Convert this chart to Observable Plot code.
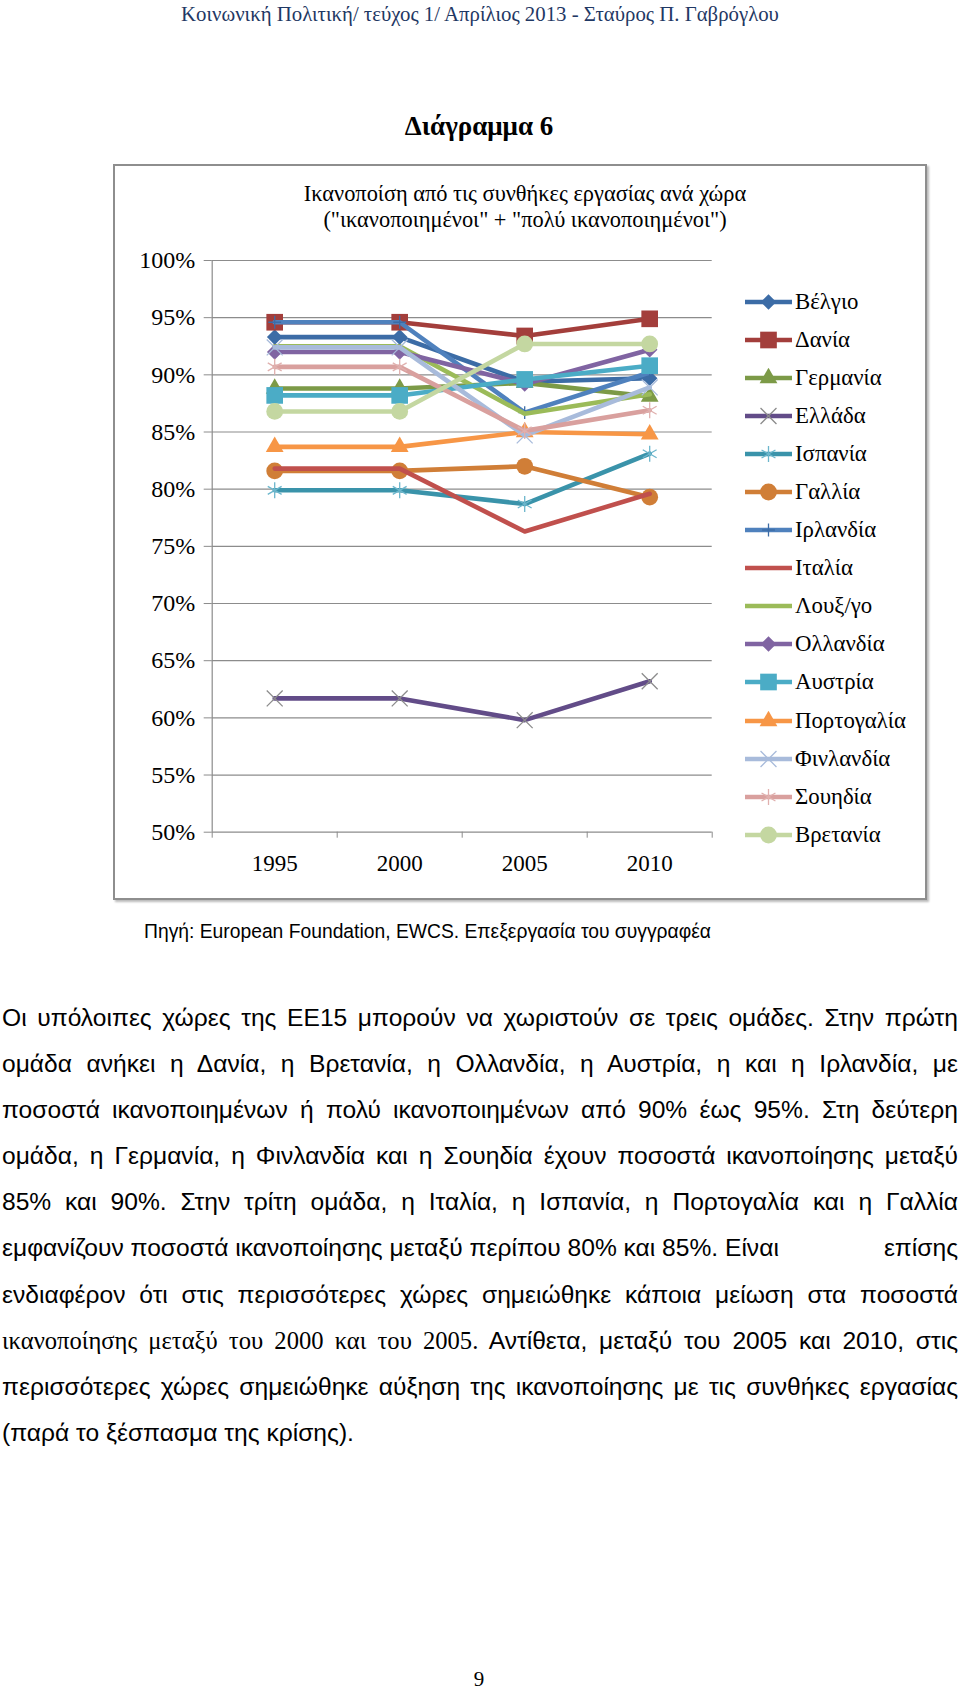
<!DOCTYPE html>
<html>
<head>
<meta charset="utf-8">
<script src="https://cdn.jsdelivr.net/npm/d3@7"></script>
<script src="https://cdn.jsdelivr.net/npm/@observablehq/plot@0.6"></script>
<style>
  html, body { margin: 0; padding: 0; background: #fff; }
  body { position: relative; width: 960px; height: 1699px; overflow: hidden; }
  .abs { position: absolute; }
  #header { left: 0; width: 960px; top: 1px; text-align: center; font-family: "Liberation Serif", serif; font-size: 20.8px; color: #1f3864; line-height: 26px; }
  #diag { left: 0; width: 958px; top: 109px; text-align: center; font-family: "Liberation Serif", serif; font-weight: bold; font-size: 27px; line-height: 34px; }
  #box { left: 113px; top: 164px; width: 810px; height: 732px; border: 2px solid #8e8e8e; box-shadow: 2px 2px 2px #bbb; }
  #ctitle { left: 113px; width: 814px; top: 181px; text-align: center; font-family: "Liberation Serif", serif; font-size: 22.4px; line-height: 26px; padding-left: 10px; box-sizing: border-box; }
  #chart { left: 113px; top: 230px; }
  #legend { left: 740px; top: 283px; font-family: "Liberation Serif", serif; font-size: 22.8px; }
  .lrow { height: 38.05px; display: flex; align-items: center; }
  .lrow svg { flex: none; }
  #source { left: 144px; top: 919px; font-family: "Liberation Sans", sans-serif; font-size: 19.3px; line-height: 26px; }
  #body { left: 2px; top: 995px; width: 956px; font-family: "Liberation Sans", sans-serif; font-size: 24.6px; line-height: 46.1px; }
  .ln { text-align: justify; text-align-last: justify; white-space: nowrap; height: 46.1px; }
  .ln.last { text-align-last: left; }
  .serif { font-family: "Liberation Serif", serif; }
  #pnum { left: 0; width: 958px; top: 1667px; text-align: center; font-family: "Liberation Serif", serif; font-size: 21px; }
</style>
</head>
<body>
<div id="header" class="abs">Κοινωνική Πολιτική/ τεύχος 1/ Απρίλιος 2013 - Σταύρος Π. Γαβρόγλου</div>
<div id="diag" class="abs">Διάγραμμα 6</div>
<div id="box" class="abs"></div>
<div id="ctitle" class="abs">Ικανοποίση από τις συνθήκες εργασίας ανά χώρα<br>("ικανοποιημένοι" + "πολύ ικανοποιημένοι")</div>
<div id="chart" class="abs"></div>
<div id="legend" class="abs"></div>
<div id="source" class="abs">Πηγή: European Foundation, EWCS. Επεξεργασία του συγγραφέα</div>
<div id="body" class="abs"></div>
<div id="pnum" class="abs">9</div>
<script>
// ---- data ----
const years = [1995, 2000, 2005, 2010];
const countries = ["Βέλγιο","Δανία","Γερμανία","Ελλάδα","Ισπανία","Γαλλία","Ιρλανδία","Ιταλία","Λουξ/γο","Ολλανδία","Αυστρία","Πορτογαλία","Φινλανδία","Σουηδία","Βρετανία"];
const belgio      = [93.3, 93.3, 89.4, 89.7];
const dania       = [94.6, 94.6, 93.4, 94.9];
const germania    = [88.8, 88.8, 89.3, 88.1];
const ellada      = [61.7, 61.7, 59.8, 63.2];
const ispania     = [79.9, 79.9, 78.7, 83.1];
const gallia      = [81.6, 81.6, 82.0, 79.3];
const irlandia    = [94.6, 94.6, 86.7, 90.2];
const italia      = [81.8, 81.8, 76.3, 79.6];
const luxemburgo  = [92.5, 92.5, 86.6, 88.3];
const ollandia    = [92.0, 92.0, 89.2, 92.2];
const austria     = [88.2, 88.2, 89.6, 90.8];
const portogalia  = [83.7, 83.7, 85.0, 84.8];
const finlandia   = [92.4, 92.4, 84.7, 88.9];
const souidia     = [90.7, 90.7, 85.1, 86.9];
const vretania    = [86.8, 86.8, 92.7, 92.7];
const yTicks = [50, 55, 60, 65, 70, 75, 80, 85, 90, 95, 100];
const series = [belgio, dania, germania, ellada, ispania, gallia, irlandia, italia, luxemburgo, ollandia, austria, portogalia, finlandia, souidia, vretania];

// ---- styles ----
const colors = ["#3c6ca6","#a33e3b","#7c9a47","#624c88","#3a93aa","#d07e37","#4f81bd","#c0504d","#9bbb59","#8064a2","#4bacc6","#f79646","#a8bbdb","#d9a09e","#c4d7a1"];
const markerColors = ["#3c6ca6","#a33e3b","#7c9a47","#8c8c8c","#6cb6cc","#d07e37","#3c6ca6",null,null,"#8064a2","#4bacc6","#f79646","#a8bbdb","#e0b0ae","#c4d7a1"];
const symbols = ["diamond2","square","triangle","times","asterisk","circle","plus",null,null,"diamond2","square","triangle","times","asterisk","circle"];
const sizes = {diamond2: 7, square: 9.4, triangle: 6.6, times: 7.3, asterisk: 7.6, circle: 8.4, plus: 4.2};
const filled = {diamond2: true, square: true, triangle: true, circle: true, times: false, asterisk: false, plus: false};

const rows = countries.flatMap((c, i) => years.map((y, j) => ({country: c, year: y, value: series[i][j]})));
const bounds = [1992.5, 1997.5, 2002.5, 2007.5, 2012.5];

const marks = [
  Plot.ruleY(yTicks, {stroke: "#8c8c8c", strokeWidth: 1.2}),
  Plot.ruleX([1992.5], {stroke: "#8c8c8c", strokeWidth: 1.2}),
  Plot.axisY({ticks: yTicks, tickSize: 8, tickPadding: 9, tickFormat: d => d + "%", fontSize: 24, stroke: "#8c8c8c", fill: "black", label: null}),
  Plot.axisX({ticks: bounds, tickSize: 6, tickFormat: () => "", stroke: "#8c8c8c", label: null}),
  Plot.axisX({ticks: years, tickSize: 0, tickPadding: 22, tickFormat: d => String(d), fontSize: 23, fill: "black", label: null})
];
countries.forEach((c, i) => {
  const data = rows.filter(r => r.country === c);
  marks.push(Plot.line(data, {x: "year", y: "value", stroke: colors[i], strokeWidth: 4.6, strokeLinejoin: "round"}));
  const s = symbols[i];
  if (s) {
    marks.push(Plot.dot(data, filled[s]
      ? {x: "year", y: "value", symbol: () => s, r: sizes[s], fill: markerColors[i], stroke: "none"}
      : {x: "year", y: "value", symbol: () => s, r: sizes[s], fill: "none", stroke: markerColors[i], strokeWidth: 1.3}));
  }
});

const chart = Plot.plot({
  width: 620, height: 660,
  marginLeft: 98.7, marginRight: 21.3, marginTop: 30, marginBottom: 58.3,
  x: {type: "linear", domain: [1992.5, 2012.5], axis: null},
  y: {domain: [50, 100], axis: null},
  symbol: {type: "identity"},
  style: {fontFamily: "Liberation Serif, serif", fontSize: "22px", color: "black", background: "transparent", overflow: "visible"},
  marks
});
document.getElementById("chart").appendChild(chart);

// ---- legend ----
const leg = d3.select("#legend");
const symMap = {diamond2: d3.symbolDiamond2, square: d3.symbolSquare, triangle: d3.symbolTriangle, times: d3.symbolTimes, asterisk: d3.symbolAsterisk, circle: d3.symbolCircle, plus: d3.symbolPlus};
countries.forEach((c, i) => {
  const row = leg.append("div").attr("class", "lrow");
  const svg = row.append("svg").attr("width", 55).attr("height", 20);
  svg.append("line").attr("x1", 5).attr("x2", 52).attr("y1", 10).attr("y2", 10).attr("stroke", colors[i]).attr("stroke-width", 4.6);
  const s = symbols[i];
  if (s) {
    const r = sizes[s];
    const p = svg.append("path").attr("transform", "translate(28.5,10)").attr("d", d3.symbol(symMap[s], Math.PI * r * r)());
    if (filled[s]) p.attr("fill", markerColors[i]); else p.attr("fill", "none").attr("stroke", markerColors[i]).attr("stroke-width", 1.3);
  }
  row.append("span").text(c);
});

// ---- body text ----
const lines = [
  [["Οι υπόλοιπες χώρες της ΕΕ15 μπορούν να χωριστούν σε τρεις ομάδες. Στην πρώτη"]],
  [["ομάδα ανήκει  η Δανία, η Βρετανία, η Ολλανδία, η Αυστρία, η και η Ιρλανδία, με"]],
  [["ποσοστά ικανοποιημένων ή πολύ ικανοποιημένων από 90% έως 95%. Στη δεύτερη"]],
  [["ομάδα, η Γερμανία, η Φινλανδία και η Σουηδία έχουν ποσοστά ικανοποίησης μεταξύ"]],
  [["85% και  90%. Στην τρίτη ομάδα, η Ιταλία, η Ισπανία, η Πορτογαλία και η Γαλλία"]],
  null,
  [["ενδιαφέρον ότι στις περισσότερες χώρες σημειώθηκε κάποια μείωση στα ποσοστά"]],
  [["ικανοποίησης μεταξύ του 2000 και του 2005.", "serif"], [" Αντίθετα, μεταξύ του 2005 και 2010, στις"]],
  [["περισσότερες χώρες σημειώθηκε αύξηση της ικανοποίησης με τις συνθήκες εργασίας"]],
  [["(παρά το ξέσπασμα της κρίσης)."]]
];
const body = d3.select("#body");
lines.forEach((parts, i) => {
  const d = body.append("div").attr("class", "ln" + (i === lines.length - 1 ? " last" : ""));
  if (parts === null) {
    d.style("display", "flex").style("justify-content", "space-between");
    d.append("span").text("εμφανίζουν ποσοστά ικανοποίησης μεταξύ περίπου 80% και 85%. Είναι");
    d.append("span").text("επίσης");
  } else {
    parts.forEach(([t, cls]) => d.append("span").attr("class", cls || null).text(t));
  }
});
// keep each source line on one row: shrink a line only if it overflows
body.selectAll(".ln").each(function() {
  const el = this;
  const probe = el.cloneNode(true);
  probe.style.display = "inline-block"; probe.style.width = "auto"; probe.style.position = "absolute"; probe.style.visibility = "hidden";
  document.body.appendChild(probe);
  const w = probe.getBoundingClientRect().width;
  probe.remove();
  if (w > 954) el.style.fontSize = (24.6 * 952 / w).toFixed(2) + "px";
});
</script>
</body>
</html>
